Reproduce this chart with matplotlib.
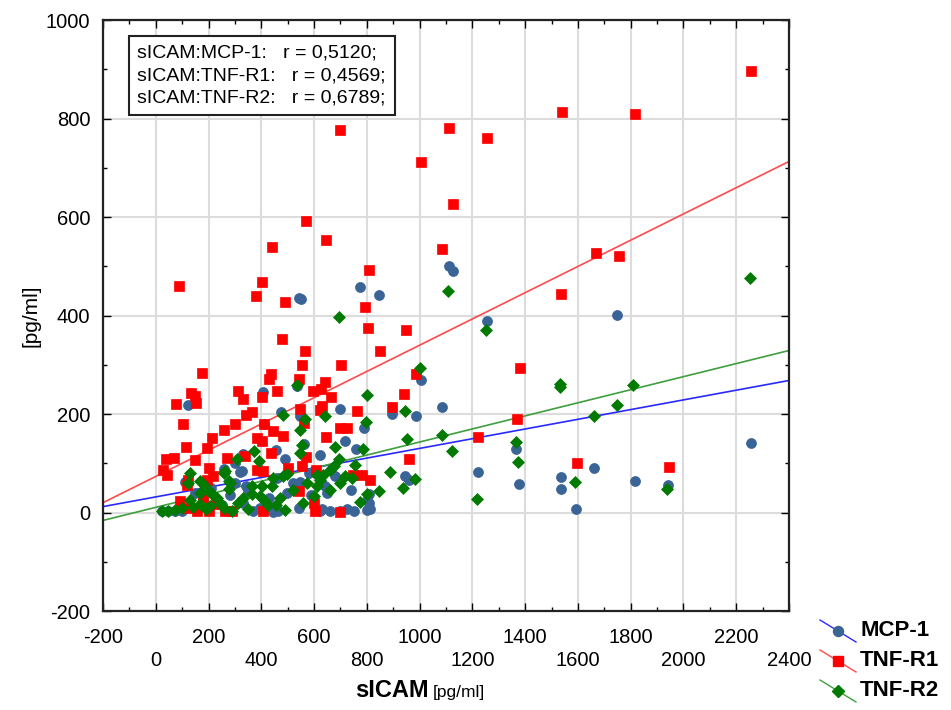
import matplotlib
matplotlib.use("Agg")
from matplotlib import pyplot as plt
from matplotlib.lines import Line2D
from matplotlib.ticker import MultipleLocator
import numpy as np

plt.rcParams['font.family'] = ['Liberation Sans', 'DejaVu Sans']
plt.rcParams['axes.unicode_minus'] = False

# sICAM [pg/ml] vs. TNF-R1 [pg/ml]
tnfr1_x = [2255, 1538, 1815, 1113, 699, 1257, 1007, 1128, 570, 646, 441, 1083, 1667, 1754,
           808, 402, 87, 1537, 379, 488, 792, 803, 949, 478, 564, 849, 554, 703, 1380, 175,
           987, 436, 431, 541, 640, 626, 596, 460, 313, 133, 149, 402, 664, 942, 332, 153,
           77, 630, 548, 621, 763, 896, 364, 343, 1370, 1222, 1595, 1945,
           105, 301, 409, 257, 446, 212, 383, 484, 402, 700, 725, 646, 115, 193, 563, 436,
           339, 269, 570, 39, 70, 147, 959, 200, 29, 42, 383, 406, 503, 608, 782, 811, 749,
           193, 216, 124, 117, 541, 92, 117, 155, 200, 263, 288, 408, 604, 697, 598, 178,
           230, 554]
tnfr1_y = [897, 814, 810, 780, 777, 760, 712, 627, 592, 553, 539, 536, 526, 520,
           493, 468, 459, 443, 439, 427, 418, 374, 371, 353, 328, 328, 299, 299, 293, 284,
           282, 282, 272, 271, 265, 250, 246, 246, 246, 243, 236, 235, 235, 240, 231, 223,
           221, 217, 211, 209, 206, 215, 204, 199, 190, 153, 101, 93,
           179, 179, 179, 168, 165, 152, 152, 155, 145, 172, 172, 154, 133, 131, 182, 121,
           114, 111, 113, 109, 111, 106, 109, 91, 86, 77, 87, 84, 91, 87, 77, 67, 77,
           67, 74, 67, 55, 43, 23, 9, 3, 3, 3, 3, 3, 3, 1, 20, 30,
           18, 94]

# sICAM [pg/ml] vs. MCP-1 [pg/ml]
mcp1_x = [1110, 1127, 775, 845, 550, 541, 1749, 1256, 1006, 537, 406, 124, 1085, 697,
          474, 896, 988, 545, 788, 409, 718, 2255, 1366, 760, 456, 623, 491, 1662, 1221,
          320, 681, 1815, 111, 1377, 1943, 642, 1534, 1534, 497, 807, 807, 541, 1592,
          23, 48, 73, 99, 370, 446, 465, 623, 661, 700, 750, 800,
          150, 180, 250, 300, 350, 430, 520, 580, 590, 260, 300, 560, 460, 740, 210, 330,
          395, 280, 118, 326, 343, 332, 946, 959, 548, 649, 630, 725, 813, 801]
mcp1_y = [500, 491, 458, 441, 434, 436, 401, 388, 270, 257, 245, 219, 214, 211,
          204, 201, 197, 197, 172, 179, 145, 141, 129, 128, 127, 116, 108, 91, 83,
          82, 74, 64, 62, 57, 55, 53, 73, 48, 39, 37, 20, 10, 8,
          3, 3, 3, 3, 3, 1, 3, 3, 3, 3, 3, 6,
          40, 25, 15, 60, 45, 30, 60, 80, 35, 88, 100, 140, 70, 45, 50, 20,
          10, 35, 64, 84, 53, 118, 74, 67, 61, 40, 8, 8, 8, 26]

# sICAM [pg/ml] vs. TNF-R2 [pg/ml]
tnfr2_x = [2252, 1107, 693, 1253, 1003, 537, 1532, 1532, 1810, 800, 1747, 482, 640, 1661,
           943, 567, 797, 545, 1085, 952, 1364, 554, 680, 785, 1123, 373, 548, 307, 695,
           393, 1374, 756, 674, 661, 889, 259, 128, 497, 611, 634, 718, 482, 446, 744,
           984, 623, 168, 1590, 280, 124, 187, 364, 402, 440, 611, 937, 1939, 845, 200,
           168, 800, 212, 364, 598, 396, 472, 332, 231, 130, 1218, 775, 244, 558, 166,
           457, 427, 206, 99, 491, 73, 288, 48, 23, 263, 276, 279,
           140, 190, 260, 310, 350, 410, 520, 575, 660, 700]
tnfr2_y = [477, 449, 397, 370, 294, 258, 260, 255, 258, 238, 218, 199, 197, 196,
           206, 189, 183, 167, 158, 150, 143, 138, 133, 128, 125, 124, 120, 109, 108,
           104, 103, 97, 94, 87, 82, 80, 80, 79, 77, 77, 75, 74, 70, 70,
           68, 67, 64, 62, 59, 59, 53, 53, 53, 53, 53, 50, 47, 43, 43,
           40, 37, 37, 37, 34, 33, 30, 30, 30, 26, 28, 21, 20, 20, 18,
           16, 16, 13, 9, 6, 6, 4, 3, 3, 84, 64, 47,
           12, 8, 10, 20, 8, 25, 45, 60, 45, 60]

# fitted regression lines: intercept, slope
fit_mcp1 = (31.7, 0.0985)
fit_tnfr1 = (73.3, 0.2665)
fit_tnfr2 = (10.5, 0.1327)

r_text = ("sICAM:MCP-1:   r = 0,5120;\n"
          "sICAM:TNF-R1:   r = 0,4569;\n"
          "sICAM:TNF-R2:   r = 0,6789;")

xmin, xmax = -200, 2400
ymin, ymax = -200, 1000

fig = plt.figure(figsize=(9.51, 7.10), dpi=100)
ax = fig.add_axes([0.1083, 0.1394, 0.7214, 0.8324])

series = [
    ("MCP-1", mcp1_x, mcp1_y, fit_mcp1, "o", "#3a6396", "#2a2aff", 7.2),
    ("TNF-R1", tnfr1_x, tnfr1_y, fit_tnfr1, "s", "#ff0000", "#ff4a4a", 7.8),
    ("TNF-R2", tnfr2_x, tnfr2_y, fit_tnfr2, "D", "#007a00", "#3f9f3f", 6.2),
]

xx = np.array([xmin, xmax])
for name, sx, sy, (b, m), mk, mc, lc, ms in series:
    ax.plot(xx, b + m * xx, color=lc, lw=1.2, zorder=2)
for i, (name, sx, sy, fit, mk, mc, lc, ms) in enumerate(series):
    ax.plot(sx, sy, linestyle="none", marker=mk, ms=ms, mfc=mc, mec=mc,
            mew=0.5, zorder=3 + i)

ax.set_xlim(xmin, xmax)
ax.set_ylim(ymin, ymax)
ax.xaxis.set_major_locator(MultipleLocator(200))
ax.xaxis.set_minor_locator(MultipleLocator(100))
ax.yaxis.set_major_locator(MultipleLocator(200))
ax.yaxis.set_minor_locator(MultipleLocator(100))

xt = np.arange(xmin, xmax + 1, 200)
ax.set_xticks(xt)
ax.set_xticklabels([str(v) if k % 2 == 0 else "\n" + str(v) for k, v in enumerate(xt)])

ax.tick_params(which="both", direction="in", top=True, right=True,
               labelsize=14.5, colors="black")
ax.tick_params(which="major", length=6, width=1)
ax.tick_params(which="minor", length=3, width=1)
ax.tick_params(axis="x", pad=12)
ax.tick_params(axis="y", pad=9)
for lab in ax.get_xticklabels():
    lab.set_linespacing(1.3)

ax.grid(True, which="major", color="#dcdcdc", lw=1.5, zorder=0)
ax.set_axisbelow(True)
for sp in ax.spines.values():
    sp.set_linewidth(1.6)
    sp.set_color("#222222")

ax.text(0.05, 0.958, r_text, transform=ax.transAxes, ha="left", va="top",
        fontsize=14, linespacing=1.4, zorder=10,
        bbox=dict(boxstyle="square,pad=0.45", fc="white", ec="#222222", lw=1.5))

ax.set_ylabel("[pg/ml]", fontsize=15, labelpad=4)

# x axis title: bold name followed by the unit in smaller type
fig.text(0.451, 0.018, "sICAM", fontsize=17, fontweight="bold", ha="right", va="baseline")
fig.text(0.455, 0.018, "[pg/ml]", fontsize=12.5, ha="left", va="baseline")

# legend with slanted line samples outside the plot area
for k, (name, sx, sy, fit, mk, mc, lc, ms) in enumerate(series):
    y0 = 620 + 30 * k
    fig.add_artist(Line2D([820 / 951, 856 / 951], [1 - y0 / 710, 1 - (y0 + 22) / 710],
                          transform=fig.transFigure, color=lc, lw=1.0))
    fig.add_artist(Line2D([838 / 951], [1 - (y0 + 11) / 710], transform=fig.transFigure,
                          marker=mk, ms=ms, mfc=mc, mec=mc, linestyle="none"))
    fig.text(860 / 951, 1 - (y0 + 10) / 710, name, fontsize=16, fontweight="bold",
             ha="left", va="center")

plt.savefig("out.png", dpi=100)
